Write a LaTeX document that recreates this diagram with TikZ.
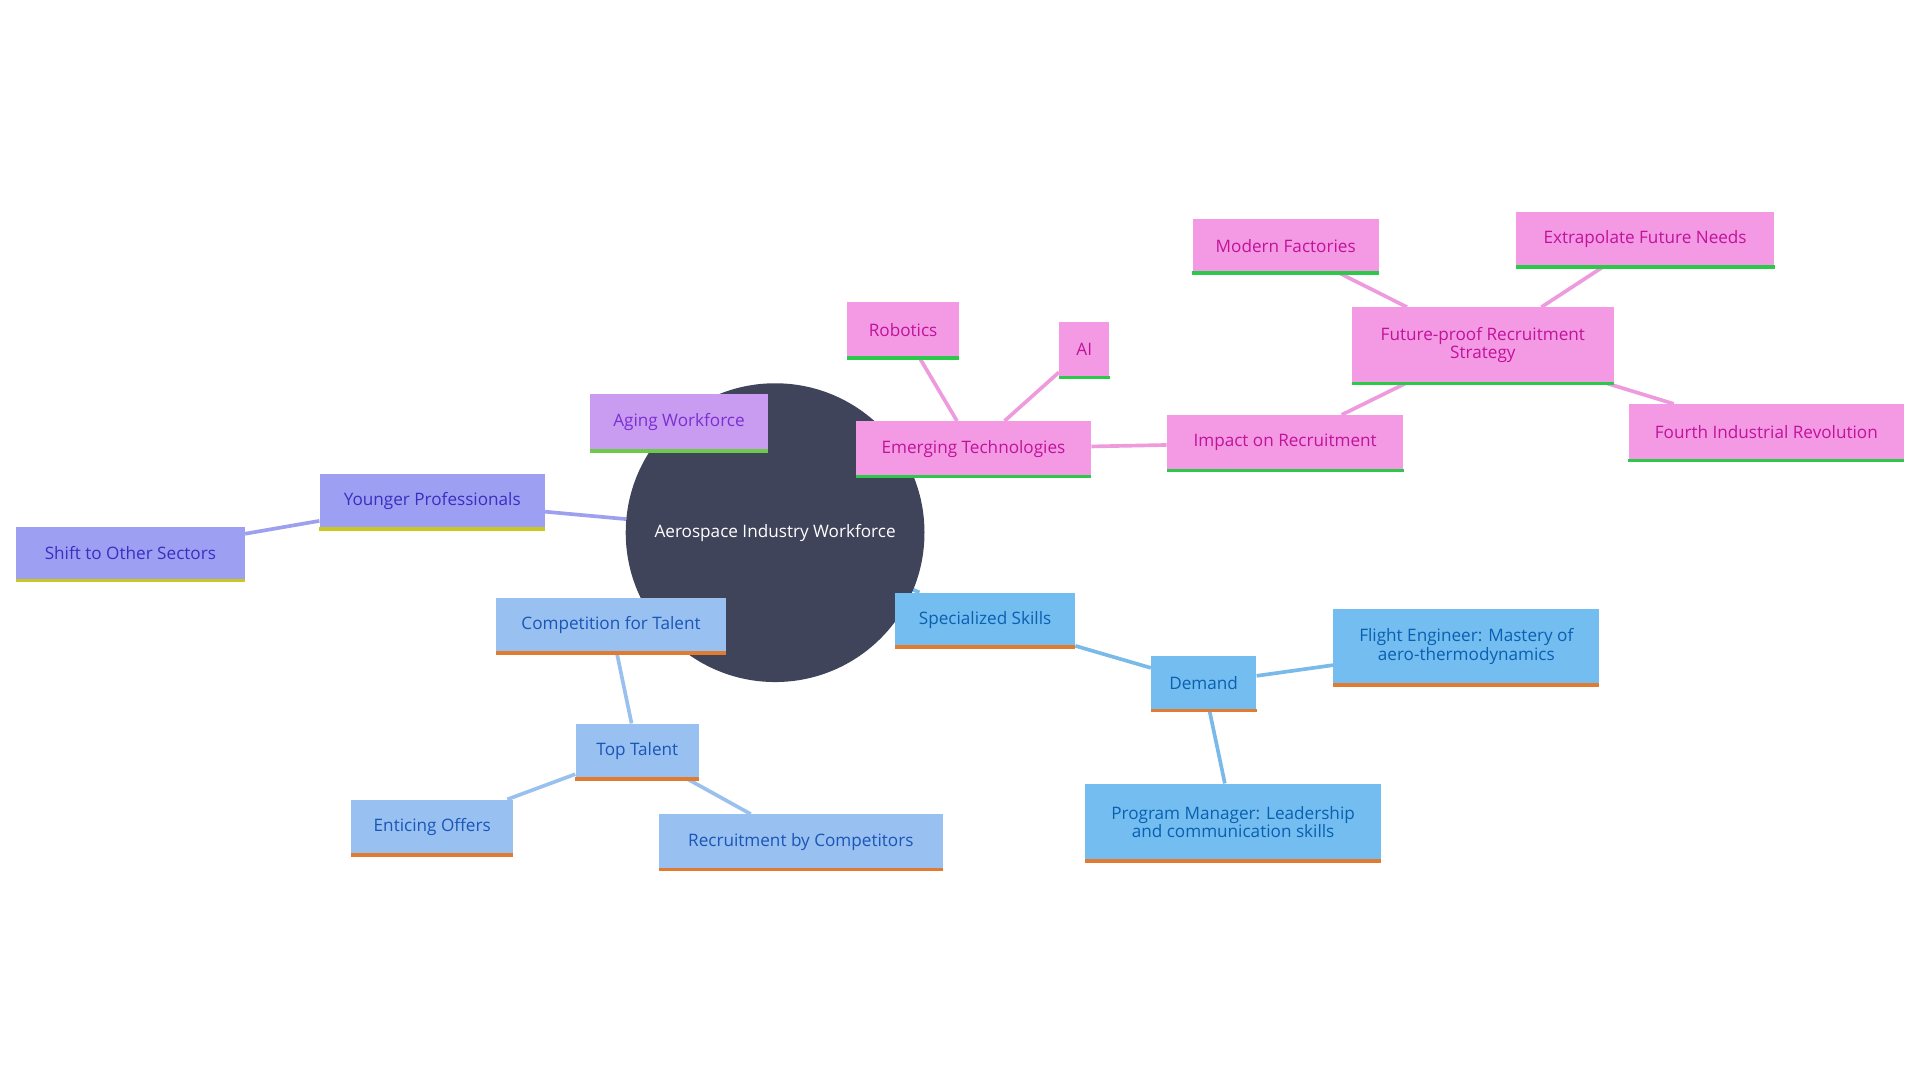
\documentclass[tikz,border=0pt]{standalone}
\usepackage{fontspec}
\setmainfont{Open Sans}
\usetikzlibrary{backgrounds}
\definecolor{hub}{HTML}{40445A}
\definecolor{pkF}{HTML}{F49AE4}\definecolor{pkT}{HTML}{C0139A}\definecolor{pkB}{HTML}{2CC84A}\definecolor{pkE}{HTML}{EE9BDE}
\definecolor{puF}{HTML}{C99CF2}\definecolor{puT}{HTML}{7B2FD0}\definecolor{puB}{HTML}{6CC94A}
\definecolor{inF}{HTML}{9DA0F2}\definecolor{inT}{HTML}{3A2FC0}\definecolor{inB}{HTML}{C8C820}\definecolor{inE}{HTML}{9DA0EE}
\definecolor{blF}{HTML}{74BDF0}\definecolor{blT}{HTML}{0A60B0}\definecolor{orB}{HTML}{E07B30}\definecolor{blE}{HTML}{7ABAE8}
\definecolor{lbF}{HTML}{98C0F0}\definecolor{lbT}{HTML}{1A55B8}\definecolor{lbE}{HTML}{9AC0EE}
\begin{document}
\begin{tikzpicture}[x=1pt,y=-1pt,
 box/.style={inner sep=0pt,align=center,font=\fontsize{14}{15}\selectfont},
 pkbox/.style={box,fill=pkF,text=pkT},
 pubox/.style={box,fill=puF,text=puT},
 ibox/.style={box,fill=inF,text=inT},
 blbox/.style={box,fill=blF,text=blT},
 lbbox/.style={box,fill=lbF,text=lbT},
 ed/.style={line width=3pt}]
\path[use as bounding box] (0,0) rectangle (1568,882);
\newcommand\bx[6]{\node[#1,minimum width=#4-#3,minimum height=#6-#5] (#2) at ({(#3+#4)/2},{(#5+#6)/2})}
\node[circle,fill=hub,minimum size=244,inner sep=0,text=white,font=\fontsize{14}{15}\selectfont] (hubn) at (633,435) {Aerospace Industry Workforce};
\bx{pubox}{aging}{482}{627}{322}{368}{Aging Workforce};
\bx{ibox}{young}{261}{445}{387}{432}{Younger Professionals};
\bx{ibox}{shift}{13}{200}{430}{474}{Shift to Other Sectors};
\bx{pkbox}{emer}{699}{891}{344}{389}{Emerging Technologies};
\bx{pkbox}{robot}{692}{783}{247}{292}{Robotics};
\bx{pkbox}{ai}{865}{906}{263}{308}{AI};
\bx{pkbox}{impact}{953}{1146}{339}{384}{Impact on Recruitment};
\bx{pkbox}{future}{1104}{1318}{251}{313}{Future-proof Recruitment\\Strategy};
\bx{pkbox}{modern}{974}{1126}{179}{223}{Modern Factories};
\bx{pkbox}{extra}{1238}{1449}{173}{218}{Extrapolate Future Needs};
\bx{pkbox}{fourth}{1330}{1555}{330}{376}{Fourth Industrial Revolution};
\bx{blbox}{spec}{731}{878}{484}{528}{Specialized Skills};
\bx{blbox}{demand}{940}{1026}{536}{580}{Demand};
\bx{blbox}{flight}{1089}{1306}{497}{559}{Flight Engineer: Mastery of\\aero-thermodynamics};
\bx{blbox}{prog}{886}{1128}{640}{703}{Program Manager: Leadership\\and communication skills};
\bx{lbbox}{comp}{405}{593}{488}{533}{Competition for Talent};
\bx{lbbox}{top}{470}{571}{591}{636}{Top Talent};
\bx{lbbox}{entice}{287}{419}{653}{698}{Enticing Offers};
\bx{lbbox}{recr}{538}{770}{665}{710}{Recruitment by Competitors};
\begin{pgfonlayer}{background}
\draw[ed,inE] (hubn)--(young) (young)--(shift);
\draw[ed,pkE] (hubn)--(emer) (emer)--(robot) (emer)--(ai) (emer)--(impact) (impact)--(future) (future)--(modern) (future)--(extra) (future)--(fourth);
\draw[ed,blE] (hubn)--(spec) (spec)--(demand) (demand)--(flight) (demand)--(prog);
\draw[ed,lbE] (hubn)--(comp) (comp)--(top) (top)--(entice) (top)--(recr);
\end{pgfonlayer}
\foreach \n in {emer,robot,ai,impact,future,modern,extra,fourth} \draw[line width=3pt,pkB] (\n.south west)--(\n.south east);
\draw[line width=3pt,puB] (aging.south west)--(aging.south east);
\foreach \n in {young,shift} \draw[line width=3pt,inB] (\n.south west)--(\n.south east);
\foreach \n in {spec,demand,flight,prog,comp,top,entice,recr} \draw[line width=3pt,orB] (\n.south west)--(\n.south east);
\end{tikzpicture}
\end{document}
